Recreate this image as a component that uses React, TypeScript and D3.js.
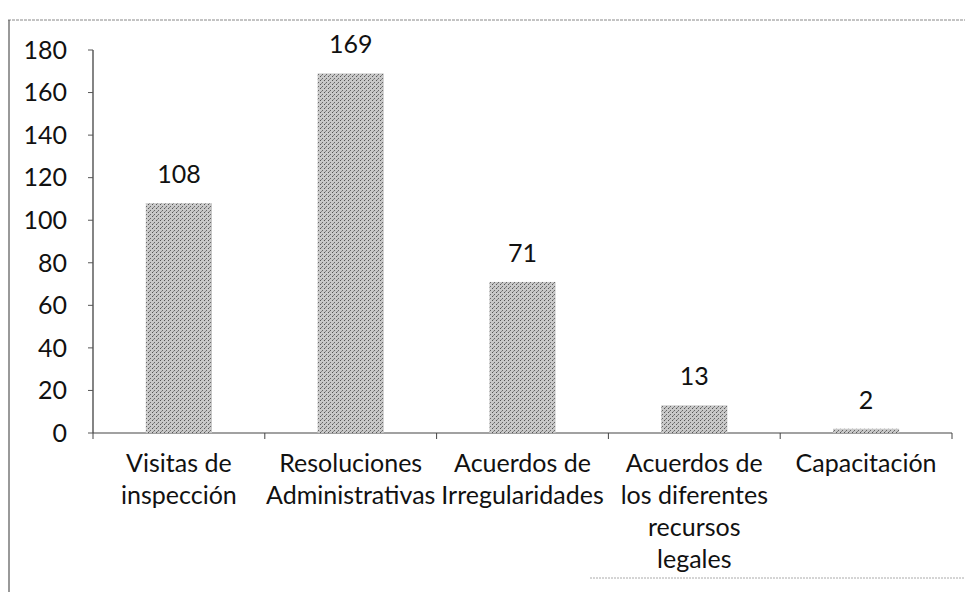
import React, { useEffect, useRef } from 'react';
import * as d3 from 'd3';

const categories = [
  ['Visitas de', 'inspección'],
  ['Resoluciones', 'Administrativas'],
  ['Acuerdos de', 'Irregularidades'],
  ['Acuerdos de', 'los diferentes', 'recursos', 'legales'],
  ['Capacitación'],
];
const values = [108, 169, 71, 13, 2];
const yTicks = [0, 20, 40, 60, 80, 100, 120, 140, 160, 180];

const W = 965;
const H = 592;
const FONT = 'Lato, "Open Sans", sans-serif';
const FS = 25;

function App() {
  const svgRef = useRef<SVGSVGElement>(null);

  useEffect(() => {
    const svg = d3.select(svgRef.current);
    svg.selectAll('*').remove();

    const left = 93, right = 952, top = 50, bottom = 433;

    // dithered grey like the scan
    const defs = svg.append('defs');
    const pat = defs.append('pattern')
      .attr('id', 'dots')
      .attr('width', 4)
      .attr('height', 4)
      .attr('patternUnits', 'userSpaceOnUse');
    pat.append('rect').attr('width', 4).attr('height', 4).attr('fill', '#c8c8c8');
    pat.append('rect').attr('x', 0).attr('y', 0).attr('width', 1).attr('height', 1).attr('fill', '#555');
    pat.append('rect').attr('x', 2).attr('y', 2).attr('width', 1).attr('height', 1).attr('fill', '#666');
    pat.append('rect').attr('x', 1).attr('y', 3).attr('width', 1).attr('height', 1).attr('fill', '#888');

    // outer frame (partially visible in the scan)
    svg.append('line')
      .attr('x1', 8).attr('y1', 20).attr('x2', W).attr('y2', 20)
      .attr('stroke', '#888').attr('stroke-width', 1).attr('stroke-dasharray', '3,1');
    svg.append('line')
      .attr('x1', 9).attr('y1', 20).attr('x2', 9).attr('y2', H)
      .attr('stroke', '#555').attr('stroke-width', 1.2);
    svg.append('line')
      .attr('x1', 590).attr('y1', 578).attr('x2', W).attr('y2', 578)
      .attr('stroke', '#aaa').attr('stroke-width', 1).attr('stroke-dasharray', '2,1');

    const x = d3.scaleBand<number>()
      .domain(d3.range(values.length))
      .range([left, right])
      .paddingInner(0.615)
      .paddingOuter(0.3075);

    const y = d3.scaleLinear().domain([0, 180]).range([bottom, top]);

    // y axis
    svg.append('line')
      .attr('x1', left).attr('y1', top).attr('x2', left).attr('y2', bottom)
      .attr('stroke', '#333').attr('stroke-width', 1.2);
    const yg = svg.append('g');
    yTicks.forEach((t) => {
      yg.append('line')
        .attr('x1', left - 5).attr('x2', left)
        .attr('y1', y(t)).attr('y2', y(t))
        .attr('stroke', '#555');
      yg.append('text')
        .attr('x', 67).attr('y', y(t))
        .attr('dy', '0.35em')
        .attr('text-anchor', 'end')
        .attr('font-family', FONT)
        .attr('font-size', FS)
        .attr('fill', '#111')
        .text(t);
    });

    // x axis
    svg.append('line')
      .attr('x1', left).attr('y1', bottom).attr('x2', right).attr('y2', bottom)
      .attr('stroke', '#444').attr('stroke-width', 1.2);
    const step = x.step();
    d3.range(values.length + 1).forEach((i) => {
      const tx = left + i * step;
      svg.append('line')
        .attr('x1', tx).attr('x2', tx)
        .attr('y1', bottom).attr('y2', bottom + 6)
        .attr('stroke', '#444');
    });

    // bars
    svg.append('g')
      .selectAll('rect')
      .data(values)
      .join('rect')
      .attr('x', (_, i) => x(i)!)
      .attr('y', (d) => y(d))
      .attr('width', x.bandwidth())
      .attr('height', (d) => bottom - y(d))
      .attr('fill', 'url(#dots)');

    // value labels
    svg.append('g')
      .selectAll('text')
      .data(values)
      .join('text')
      .attr('x', (_, i) => x(i)! + x.bandwidth() / 2)
      .attr('y', (d) => y(d) - 20)
      .attr('text-anchor', 'middle')
      .attr('font-family', FONT)
      .attr('font-size', FS)
      .attr('fill', '#111')
      .text((d) => d);

    // category labels
    categories.forEach((lines, i) => {
      const cx = left + (i + 0.5) * step;
      const t = svg.append('text')
        .attr('text-anchor', 'middle')
        .attr('font-family', FONT)
        .attr('font-size', FS)
        .attr('fill', '#111');
      lines.forEach((ln, j) => {
        t.append('tspan')
          .attr('x', cx)
          .attr('y', 472 + j * 32)
          .text(ln);
      });
    });
  }, []);

  return (
    <svg ref={svgRef} width={W} height={H} style={{ position: 'absolute', left: 0, top: 0, background: '#fff' }} />
  );
}

export default App;
